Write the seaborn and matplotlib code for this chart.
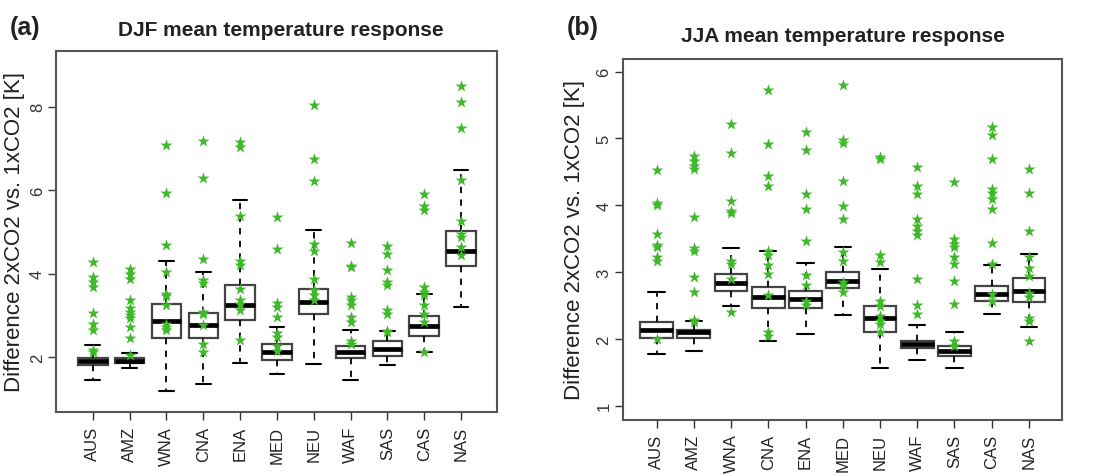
import numpy as np
import pandas as pd
import matplotlib
matplotlib.use('Agg')
import matplotlib.pyplot as plt
import seaborn as sns

sns.set_style('white')
plt.rcParams['font.family'] = ['Liberation Sans', 'DejaVu Sans']

# ===================== data =====================
regions = ['AUS', 'AMZ', 'WNA', 'CNA', 'ENA', 'MED', 'NEU', 'WAF', 'SAS', 'CAS', 'NAS']

# DJF box statistics: whisker low, Q1, median, Q3, whisker high
djf_lo = [1.46, 1.74, 1.20, 1.35, 1.86, 1.60, 1.84, 1.46, 1.82, 2.12, 3.20]
djf_q1 = [1.82, 1.86, 2.45, 2.45, 2.88, 1.94, 3.04, 1.98, 2.02, 2.50, 4.19]
djf_med = [1.90, 1.92, 2.87, 2.77, 3.24, 2.12, 3.33, 2.12, 2.20, 2.74, 4.55]
djf_q3 = [1.98, 1.98, 3.28, 3.07, 3.73, 2.31, 3.64, 2.28, 2.38, 2.98, 5.01]
djf_hi = [2.30, 2.10, 4.31, 4.03, 5.77, 2.72, 5.05, 2.66, 2.62, 3.51, 6.47]
djf_stars = [
    [4.27, 3.92, 3.81, 3.67, 3.05, 2.80, 2.65, 2.18, 2.12],
    [4.11, 4.00, 3.88, 3.37, 3.19, 3.08, 3.00, 2.93, 2.72, 2.45, 2.06],
    [7.09, 5.93, 4.69, 4.03, 3.52, 3.46, 3.24, 2.80, 2.72, 2.66],
    [7.17, 6.29, 4.34, 3.84, 3.77, 3.09, 3.04, 2.76, 2.32, 2.12],
    [7.16, 7.03, 5.39, 4.31, 4.21, 3.64, 3.36, 3.28, 3.12, 2.42],
    [5.35, 4.59, 3.30, 3.20, 2.96, 2.57, 2.48, 2.28, 2.16],
    [8.04, 6.75, 6.21, 4.71, 4.55, 3.88, 3.60, 3.48, 3.36],
    [4.73, 4.19, 4.15, 3.45, 3.36, 3.24, 2.96, 2.85, 2.40, 2.32],
    [4.66, 4.47, 4.08, 3.80, 3.74, 3.14, 3.04, 2.64, 2.60],
    [5.91, 5.63, 5.53, 3.68, 3.56, 3.48, 3.24, 3.04, 2.84, 2.12],
    [8.49, 8.11, 7.48, 6.25, 5.27, 4.95, 4.87, 4.63, 4.45],
]

# JJA box statistics
jja_lo = [1.77, 1.82, 2.49, 1.97, 2.07, 2.36, 1.57, 1.69, 1.57, 2.37, 2.18]
jja_q1 = [2.01, 2.01, 2.71, 2.46, 2.46, 2.76, 2.11, 1.86, 1.74, 2.57, 2.55]
jja_med = [2.13, 2.10, 2.84, 2.62, 2.60, 2.86, 2.31, 1.92, 1.82, 2.67, 2.72]
jja_q3 = [2.25, 2.14, 2.97, 2.77, 2.72, 3.00, 2.49, 1.97, 1.89, 2.79, 2.91]
jja_hi = [2.70, 2.27, 3.36, 3.31, 3.13, 3.37, 3.04, 2.21, 2.11, 3.11, 3.27]
jja_stars = [
    [4.53, 4.03, 4.00, 3.57, 3.41, 3.37, 3.22, 3.17, 2.00],
    [4.74, 4.67, 4.59, 4.54, 3.83, 3.36, 3.31, 2.92, 2.70, 2.29, 2.26],
    [5.21, 4.79, 4.06, 3.92, 3.89, 3.17, 3.12, 2.90, 2.40],
    [5.72, 4.92, 4.44, 4.29, 3.31, 3.25, 3.10, 2.97, 2.65, 2.10, 2.05],
    [5.09, 4.83, 4.17, 3.95, 3.46, 2.96, 2.80, 2.57, 2.50],
    [5.80, 4.97, 4.94, 4.37, 3.99, 3.80, 3.30, 3.17, 2.85, 2.80, 2.70],
    [4.73, 4.70, 3.26, 3.15, 2.57, 2.49, 2.35, 2.27, 2.22, 2.10],
    [4.57, 4.29, 4.17, 3.80, 3.69, 3.62, 3.55, 2.90, 2.51, 2.37],
    [4.35, 3.50, 3.42, 3.37, 3.22, 3.12, 2.86, 2.52, 1.97, 1.89],
    [5.17, 5.05, 4.70, 4.25, 4.19, 4.10, 3.95, 3.43, 3.12, 2.67, 2.57],
    [4.55, 4.18, 3.61, 3.22, 3.06, 2.94, 2.69, 2.62, 2.32, 2.27, 1.97],
]

STAR_COLOR = '#3fb82a'
BOX_EDGE = '#444444'
FRAME = '#555555'


def box_table(lo, q1, med, q3, hi):
    # five values per region -> quartiles land exactly on q1/med/q3, whiskers on lo/hi
    rows = []
    for i, reg in enumerate(regions):
        for v in (lo[i], q1[i], med[i], q3[i], hi[i]):
            rows.append({'region': reg, 'value': v})
    return pd.DataFrame(rows)


def star_table(stars):
    rows = []
    for reg, vals in zip(regions, stars):
        for v in vals:
            rows.append({'region': reg, 'value': v})
    return pd.DataFrame(rows)


def draw_panel(ax, boxes, stars, width, xlim, ylim, yticks):
    sns.boxplot(data=boxes, x='region', y='value', order=regions, ax=ax,
                width=width, whis=np.inf, showfliers=False, color='white',
                linecolor=BOX_EDGE, linewidth=1.6,
                medianprops=dict(color='black', linewidth=3.4),
                whiskerprops=dict(color='black', linestyle=(0, (3.5, 3.5)), linewidth=1.3),
                capprops=dict(color='black', linewidth=1.5))
    sns.stripplot(data=stars, x='region', y='value', order=regions, ax=ax,
                  jitter=False, marker='*', size=9, color=STAR_COLOR,
                  linewidth=0, zorder=5)
    ax.set_xlim(*xlim)
    ax.set_ylim(*ylim)
    ax.set_yticks(yticks)
    ax.set_xlabel('')
    ax.set_ylabel('Difference 2xCO2 vs. 1xCO2 [K]', fontsize=16, color='#222222')
    ax.tick_params(axis='x', labelrotation=90, labelsize=12, length=6, width=1,
                   color='#333333', labelcolor='#222222', pad=4, bottom=True)
    ax.tick_params(axis='y', labelsize=12, length=6, width=1, color='#333333',
                   labelcolor='#333333', pad=2, left=True)
    for lab in ax.get_yticklabels():
        lab.set_rotation(90)
        lab.set_va('center')
    for sp in ax.spines.values():
        sp.set_color(FRAME)
        sp.set_linewidth(1.5)


fig = plt.figure(figsize=(11.07, 4.77), dpi=100)
ax1 = fig.add_axes([0.0506, 0.1342, 0.3984, 0.7568])
ax2 = fig.add_axes([0.5625, 0.118, 0.3966, 0.7562])

draw_panel(ax1, box_table(djf_lo, djf_q1, djf_med, djf_q3, djf_hi), star_table(djf_stars),
           0.8, (-1.0, 10.98), (0.69, 9.33), [2, 4, 6, 8])
draw_panel(ax2, box_table(jja_lo, jja_q1, jja_med, jja_q3, jja_hi), star_table(jja_stars),
           0.88, (-0.91, 10.88), (0.79, 6.19), [1, 2, 3, 4, 5, 6])

ax1.yaxis.set_label_coords(-0.07, 0.5)
ax2.yaxis.set_label_coords(-0.086, 0.5)

fig.text(0.009, 0.941, '(a)', fontsize=18, fontweight='bold', ha='left', va='center', color='#222222')
fig.text(281 / 1107, 1 - 31 / 477, 'DJF mean temperature response', fontsize=15,
         fontweight='bold', ha='center', va='center', color='#222222')
fig.text(0.512, 0.942, '(b)', fontsize=18, fontweight='bold', ha='left', va='center', color='#222222')
fig.text(843 / 1107, 1 - 37 / 477, 'JJA mean temperature response', fontsize=15,
         fontweight='bold', ha='center', va='center', color='#222222')

fig.savefig('out.png', dpi=100)
